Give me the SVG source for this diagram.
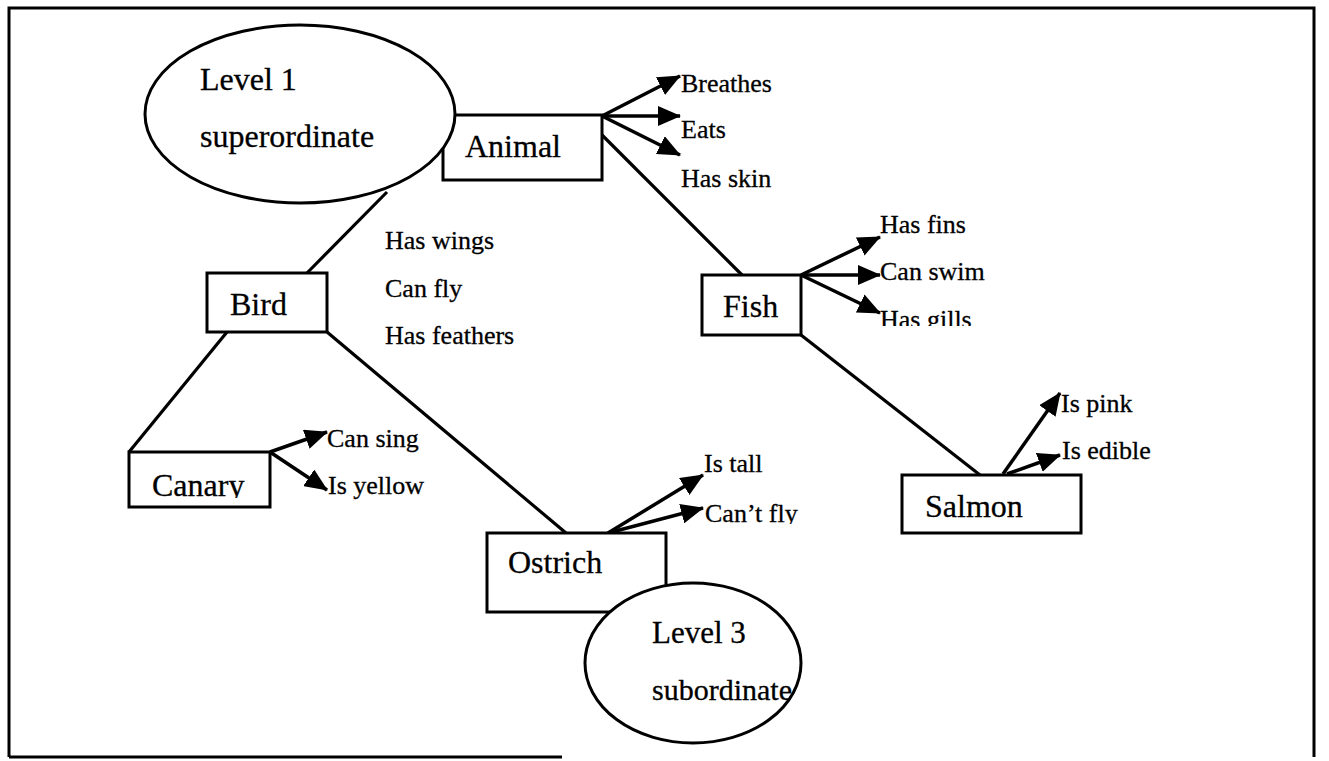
<svg xmlns="http://www.w3.org/2000/svg" width="1329" height="761" viewBox="0 0 1329 761">
<style>
.box{fill:#fff;stroke:#000;stroke-width:3}
.ell{fill:#fff;stroke:#000;stroke-width:3}
.ln{stroke:#000;stroke-width:3.2;fill:none}
.ar{stroke:#000;stroke-width:3.5;fill:none;marker-end:url(#ah)}
.nt{font-family:"Liberation Serif","Times New Roman",serif;font-size:32px;fill:#000;stroke:#000;stroke-width:0.3}
.pt{font-family:"Liberation Serif","Times New Roman",serif;font-size:26px;fill:#000;stroke:#000;stroke-width:0.3}
.frame{stroke:#000;stroke-width:3;fill:none}
</style>
<defs>
<marker id="ah" markerUnits="userSpaceOnUse" markerWidth="23" markerHeight="20" refX="22" refY="10" orient="auto">
<path d="M0,0 L23,10 L0,20 z" fill="#000"/>
</marker>
<clipPath id="cCanary"><rect x="130" y="440" width="140" height="58"/></clipPath>
<clipPath id="cGills"><rect x="870" y="295" width="140" height="31"/></clipPath>
<clipPath id="cFly"><rect x="700" y="490" width="140" height="34"/></clipPath>
</defs>
<rect width="1329" height="761" fill="#fff"/>
<g id="frame">
<path class="frame" d="M9,757 L9,8 L1314,8 L1314,757"/>
<path class="frame" d="M9,757 L562,757"/>
</g>
<g id="connectors">
<line class="ln" x1="387" y1="192" x2="307" y2="273"/>
<line class="ln" x1="602" y1="135" x2="742" y2="275"/>
<line class="ln" x1="227" y1="332" x2="129" y2="452"/>
<line class="ln" x1="327" y1="332" x2="566" y2="533"/>
<line class="ln" x1="801" y1="335" x2="980" y2="475"/>
<line class="ar" x1="602" y1="116" x2="680" y2="76"/>
<line class="ar" x1="602" y1="116" x2="680" y2="116"/>
<line class="ar" x1="602" y1="116" x2="680" y2="155"/>
<line class="ar" x1="801" y1="275" x2="880" y2="237"/>
<line class="ar" x1="801" y1="275" x2="880" y2="275"/>
<line class="ar" x1="801" y1="275" x2="880" y2="313"/>
<line class="ar" x1="270" y1="452" x2="327" y2="432"/>
<line class="ar" x1="270" y1="452" x2="327" y2="490"/>
<line class="ar" x1="608" y1="533" x2="703" y2="475"/>
<line class="ar" x1="608" y1="533" x2="703" y2="508"/>
<line class="ar" x1="1003" y1="474" x2="1060" y2="393"/>
<line class="ar" x1="1007" y1="474" x2="1060" y2="455"/>
</g>
<g id="animal">
<rect class="box" x="443" y="115" width="159" height="65"/>
<text class="nt" x="465" y="157">Animal</text>
<text class="pt" x="681" y="92">Breathes</text>
<text class="pt" x="681" y="138">Eats</text>
<text class="pt" x="681" y="187">Has skin</text>
</g>
<g id="bird">
<rect class="box" x="207" y="273" width="120" height="59"/>
<text class="nt" x="230" y="315">Bird</text>
<text class="pt" x="385" y="249">Has wings</text>
<text class="pt" x="385" y="297">Can fly</text>
<text class="pt" x="385" y="344">Has feathers</text>
</g>
<g id="fish">
<rect class="box" x="702" y="275" width="99" height="60"/>
<text class="nt" x="723" y="317">Fish</text>
<text class="pt" x="880" y="233">Has fins</text>
<text class="pt" x="880" y="280">Can swim</text>
<text class="pt" x="880" y="328" clip-path="url(#cGills)">Has gills</text>
</g>
<g id="canary">
<rect class="box" x="129" y="452" width="141" height="55"/>
<text class="nt" x="152" y="496" clip-path="url(#cCanary)">Canary</text>
<text class="pt" x="327" y="447">Can sing</text>
<text class="pt" x="328" y="494">Is yellow</text>
</g>
<g id="ostrich">
<rect class="box" x="487" y="533" width="179" height="79"/>
<text class="nt" x="508" y="573">Ostrich</text>
<text class="pt" x="704" y="472">Is tall</text>
<text class="pt" x="705" y="522" clip-path="url(#cFly)">Can’t fly</text>
</g>
<g id="salmon">
<rect class="box" x="902" y="475" width="179" height="58"/>
<text class="nt" x="925" y="517">Salmon</text>
<text class="pt" x="1061" y="412">Is pink</text>
<text class="pt" x="1062" y="459">Is edible</text>
</g>
<g id="level1">
<ellipse class="ell" cx="300" cy="114" rx="155" ry="89"/>
<text class="nt" x="200" y="90">Level 1</text>
<text class="nt" x="200" y="147">superordinate</text>
</g>
<g id="level3">
<ellipse class="ell" cx="693" cy="663" rx="108" ry="80"/>
<text class="nt" x="652" y="643" style="font-size:31px">Level 3</text>
<text class="nt" x="652" y="700" style="font-size:30px">subordinate</text>
</g>
</svg>
